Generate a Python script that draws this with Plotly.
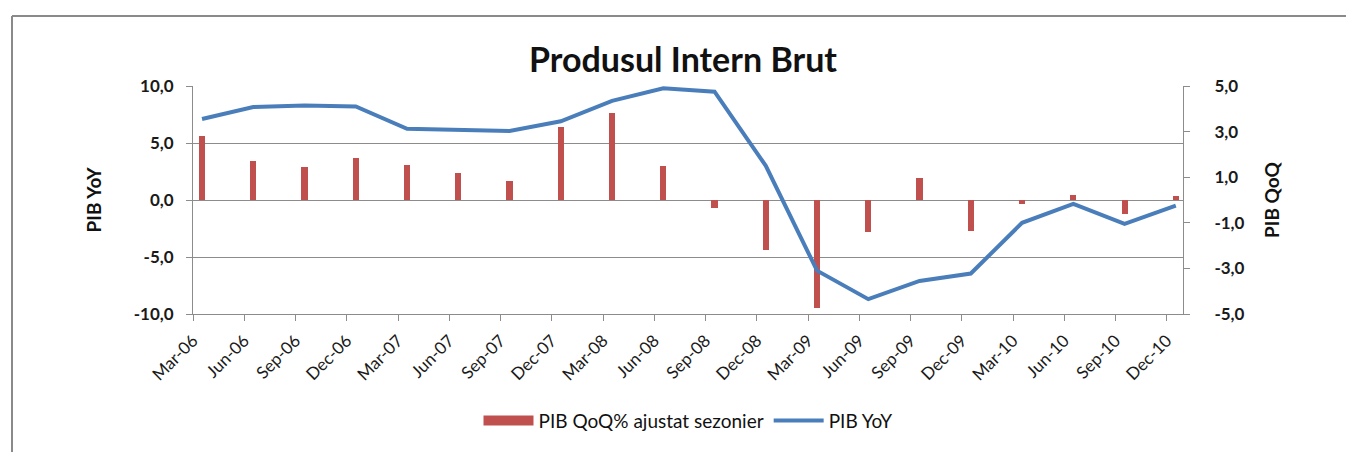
import plotly.graph_objects as go

quarters = ["Mar-06", "Jun-06", "Sep-06", "Dec-06", "Mar-07", "Jun-07", "Sep-07", "Dec-07",
            "Mar-08", "Jun-08", "Sep-08", "Dec-08", "Mar-09", "Jun-09", "Sep-09", "Dec-09",
            "Mar-10", "Jun-10", "Sep-10", "Dec-10"]
pib_qoq = [2.8, 1.7, 1.45, 1.85, 1.55, 1.2, 0.83, 3.2, 3.8, 1.5, -0.34, -2.2,
           -4.73, -1.42, 0.96, -1.38, -0.17, 0.24, -0.63, 0.18]
pib_yoy = [7.1, 8.15, 8.3, 8.2, 6.25, 6.15, 6.05, 6.9, 8.7, 9.8, 9.5, 3.0,
           -6.2, -8.7, -7.1, -6.45, -2.0, -0.35, -2.1, -0.5]
left_ticks = [-10, -5, 0, 5, 10]
left_labels = ["-10,0", "-5,0", "0,0", "5,0", "10,0"]
right_ticks = [-5, -3, -1, 1, 3, 5]
right_labels = ["-5,0", "-3,0", "-1,0", "1,0", "3,0", "5,0"]

idx = list(range(len(quarters)))
tick_offset = 0.176

FONT = "Lato"
GRID = "#8c8c8c"
RED = "#C0504D"
BLUE = "#4A7EBB"
FRAME = "#8a8a8a"

fig = go.Figure()
fig.add_trace(go.Bar(
    x=idx, y=pib_qoq, name="PIB QoQ% ajustat sezonier",
    marker=dict(color=RED, line=dict(width=0)), width=0.12,
    yaxis="y", showlegend=False,
))
# legend entry for the bars drawn as a wide red swatch (Excel-style)
fig.add_trace(go.Scatter(
    x=[None], y=[None], name="PIB QoQ% ajustat sezonier", mode="lines",
    line=dict(color=RED, width=10), yaxis="y", hoverinfo="skip",
))
fig.add_trace(go.Scatter(
    x=idx, y=pib_yoy, name="PIB YoY", mode="lines",
    line=dict(color=BLUE, width=4), yaxis="y2",
))

px_x = lambda p: (p - 193) / 990
px_y = lambda p: (317 - p) / 231

fig.update_layout(
    width=1346, height=452,
    margin=dict(l=193, r=163, t=86, b=135),
    paper_bgcolor="white", plot_bgcolor="white",
    font=dict(family=FONT, color="#1a1a1a", size=16),
    title=dict(text="<b>Produsul Intern Brut</b>", x=683 / 1346, xanchor="center",
               y=1 - 60 / 452, yanchor="middle",
               font=dict(family=FONT, size=34, color="#111")),
    showlegend=True,
    legend=dict(orientation="h", x=px_x(688), xanchor="center",
                y=px_y(425), yanchor="middle",
                font=dict(family=FONT, size=19, color="#111"),
                itemwidth=50, bgcolor="rgba(0,0,0,0)"),
    bargap=0,
    xaxis=dict(
        range=[-tick_offset, len(quarters) - 1 + 0.14],
        tickmode="array",
        tickvals=[i - tick_offset for i in idx],
        ticktext=quarters,
        tickangle=-45,
        ticks="outside", ticklen=6, tickcolor=GRID,
        showline=True, linecolor=GRID, linewidth=1,
        showgrid=False, zeroline=False, automargin=False,
        ticklabelstandoff=3,
        tickfont=dict(family=FONT, size=17, color="#1a1a1a"),
    ),
    yaxis=dict(
        side="right", range=[-5, 5],
        tickmode="array", tickvals=right_ticks, ticktext=right_labels,
        ticks="outside", ticklen=6, tickcolor=GRID,
        showline=True, linecolor=GRID, linewidth=1,
        showgrid=False, zeroline=False, automargin=False,
        ticklabelstandoff=21,
        tickfont=dict(family=FONT, size=17, color="#1a1a1a", weight="bold"),
        title=dict(text="<b>PIB QoQ</b>", standoff=22,
                   font=dict(family=FONT, size=19, color="#111")),
    ),
    yaxis2=dict(
        overlaying="y", side="left", range=[-10, 10],
        tickmode="array", tickvals=left_ticks, ticktext=left_labels,
        ticks="outside", ticklen=6, tickcolor=GRID,
        showline=True, linecolor=GRID, linewidth=1,
        showgrid=True, gridcolor=GRID, gridwidth=1, zeroline=False, automargin=False,
        ticklabelstandoff=9,
        tickfont=dict(family=FONT, size=17, color="#1a1a1a", weight="bold"),
        title=dict(text="<b>PIB YoY</b>", standoff=27,
                   font=dict(family=FONT, size=19, color="#111")),
    ),
    shapes=[
        dict(type="line", xref="paper", yref="paper",
             x0=px_x(12), x1=px_x(1400), y0=px_y(15), y1=px_y(15),
             line=dict(color=FRAME, width=2), layer="below"),
        dict(type="line", xref="paper", yref="paper",
             x0=px_x(12), x1=px_x(12), y0=px_y(15), y1=px_y(500),
             line=dict(color=FRAME, width=2), layer="below"),
    ],
)

fig.write_html(
    "out.html",
    config={"displayModeBar": False},
    post_script=("document.documentElement.style.overflow='hidden';"
                 "document.body.style.margin='0';"
                 "document.body.style.overflow='hidden';"),
)
